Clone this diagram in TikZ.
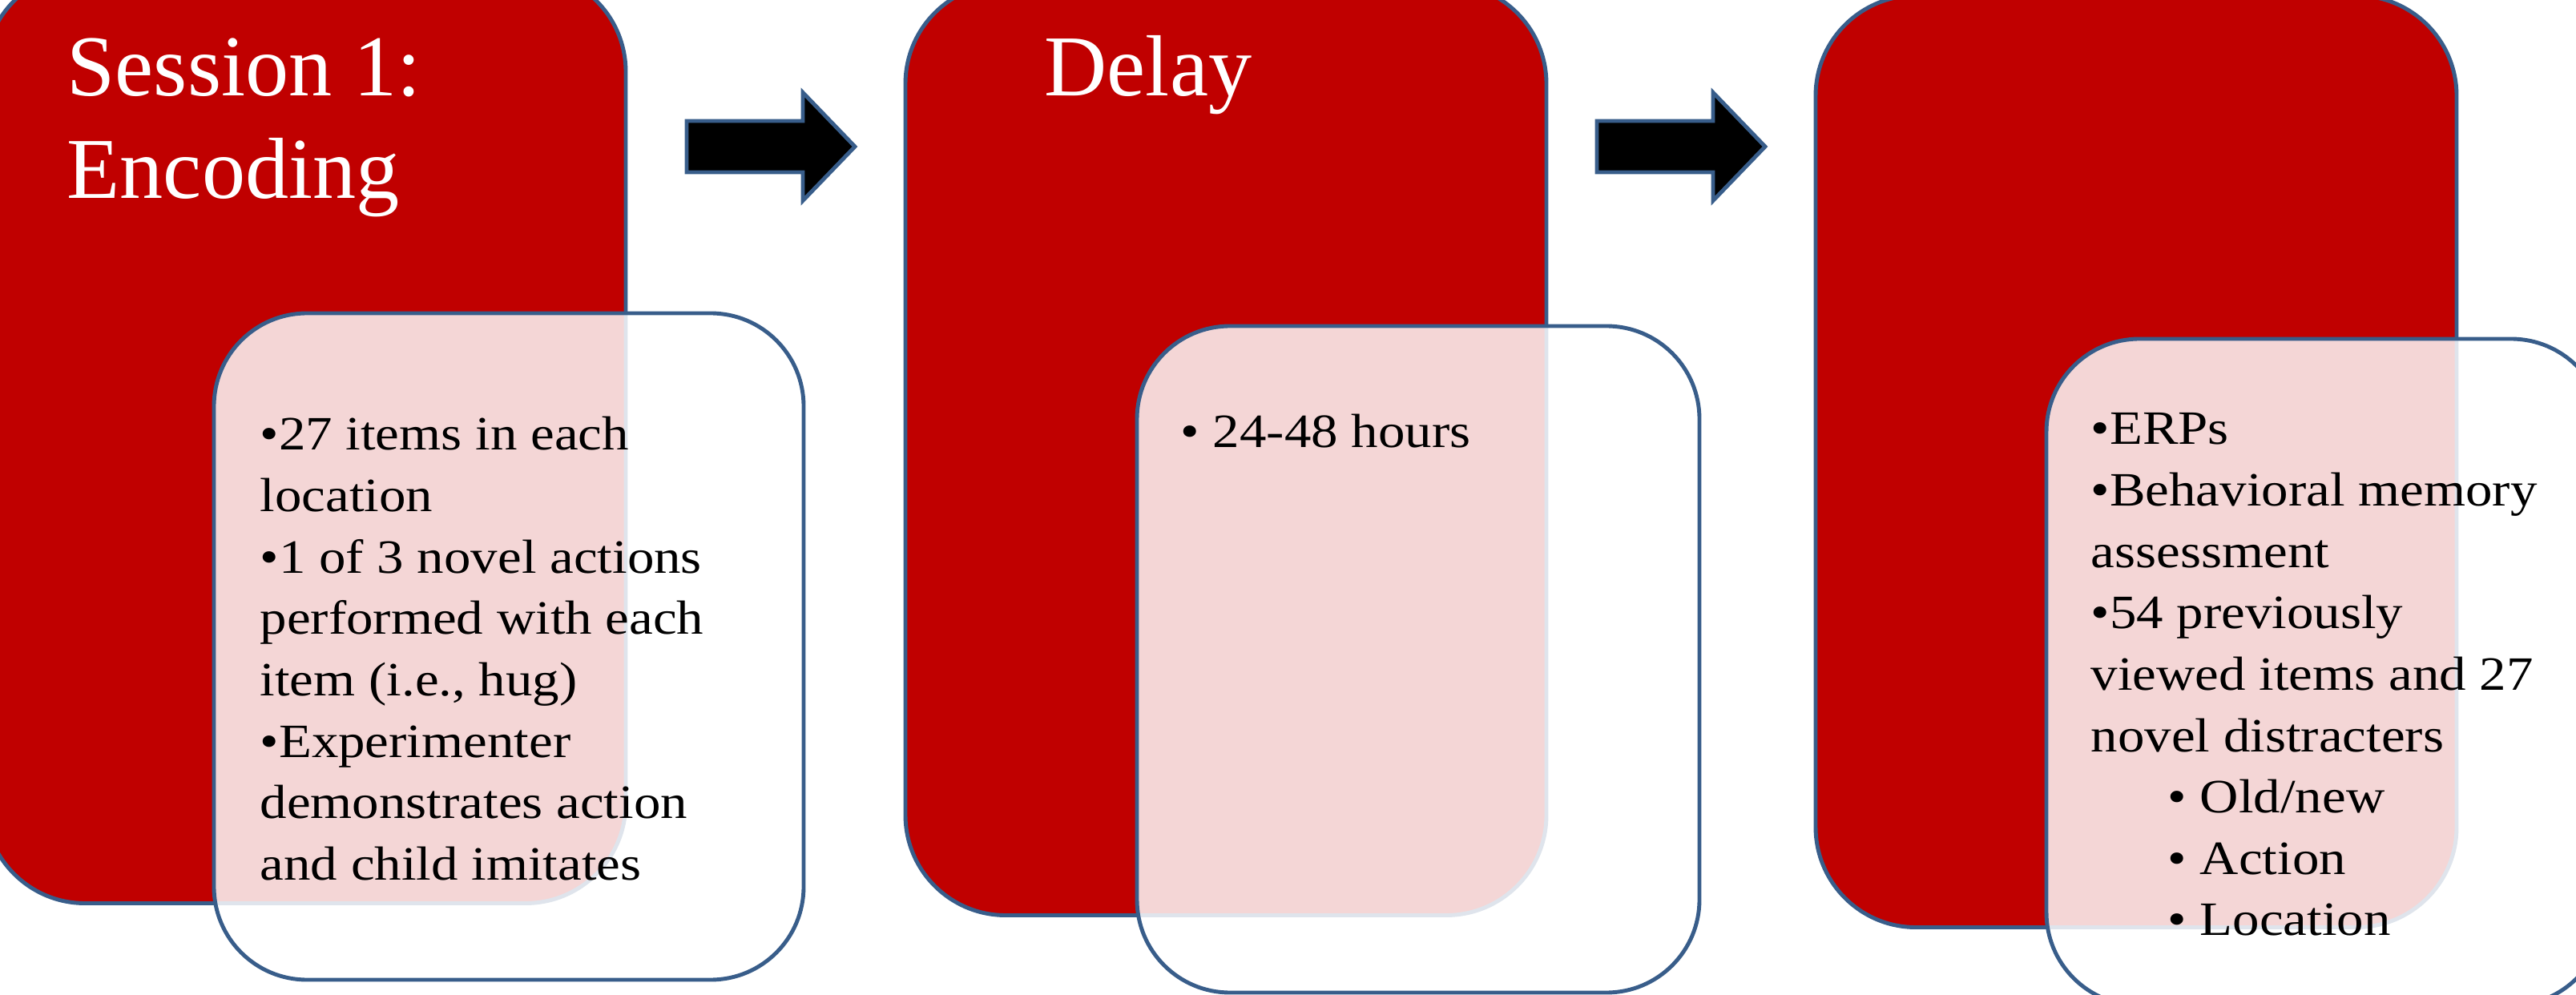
\documentclass[tikz,border=0pt]{standalone}
\usepackage{fontspec}
\setmainfont{Liberation Serif}[FakeStretch=1.12]
\newfontfamily\headfont{Liberation Serif}
\definecolor{boxRed}{HTML}{C00000}
\definecolor{lineBlue}{HTML}{385D8A}
\begin{document}
\begin{tikzpicture}
        [redBox/.style={rectangle, rounded corners=1.25cm, draw=lineBlue, line width=1.4pt, fill=boxRed, minimum width=8cm, minimum height=11.63cm, inner sep=0pt},
        whiteBox/.style={rectangle, rounded corners=1.16cm, draw=lineBlue, line width=1.4pt, fill=white, fill opacity=0.84, minimum height=8.32cm, inner sep=0pt},
        headText/.style={anchor=base west, inner sep=0pt, text=white, font=\headfont\fontsize{30.8}{36.4}\selectfont},
        listText/.style={anchor=base west, inner sep=0pt, font=\fontsize{17}{21.8}\selectfont},
        blockArrow/.style={draw=lineBlue, line width=1.4pt, fill=black, line join=miter}]
        \useasboundingbox (0,0) rectangle (32.15,-12.42);
        \clip (0,0) rectangle (32.15,-12.42);

        % session 1
        \node[redBox] (R1) at (3.81,-5.46) {};
        \node[whiteBox, minimum width=7.36cm] (W1) at (6.35,-8.07) {};
        \node[headText] (T1) at (0.83,-1.20) {\begin{tabular}[t]{@{}l@{}}Session 1:\\Encoding\end{tabular}};
        \node[listText] (L1) at (3.24,-5.62) {\begin{tabular}[t]{@{}l@{}}•27 items in each\\location\\•1 of 3 novel actions\\performed with each\\item (i.e., hug)\\•Experimenter\\demonstrates action\\and child imitates\end{tabular}};

        % delay
        \node[redBox] (R2) at (15.30,-5.61) {};
        \node[whiteBox, minimum width=7.02cm] (W2) at (17.70,-8.23) {};
        \node[headText] (T2) at (13.03,-1.20) {Delay};
        \node[listText] (L2) at (14.73,-5.59) {• 24-48 hours};

        % session 2
        \node[redBox] (R3) at (26.66,-5.76) {};
        \node[whiteBox, minimum width=6.96cm] (W3) at (29.02,-8.39) {};
        \node[listText] (L3) at (26.09,-5.55) {\begin{tabular}[t]{@{}l@{}}•ERPs\\•Behavioral memory\\assessment\\•54 previously\\viewed items and 27\\novel distracters\\\hspace*{0.96cm}• Old/new\\\hspace*{0.96cm}• Action\\\hspace*{0.96cm}• Location\end{tabular}};

        \coordinate (A1) at (8.57,-1.83);
        \coordinate (A2) at (19.93,-1.83);
        \draw[blockArrow] (A1) ++(0,0.32) -- ++(1.45,0) -- ++(0,0.355) -- ++(0.65,-0.675) -- ++(-0.65,-0.675) -- ++(0,0.355) -- ++(-1.45,0) -- cycle;
        \draw[blockArrow] (A2) ++(0,0.32) -- ++(1.45,0) -- ++(0,0.355) -- ++(0.65,-0.675) -- ++(-0.65,-0.675) -- ++(0,0.355) -- ++(-1.45,0) -- cycle;

\end{tikzpicture}
\end{document}
